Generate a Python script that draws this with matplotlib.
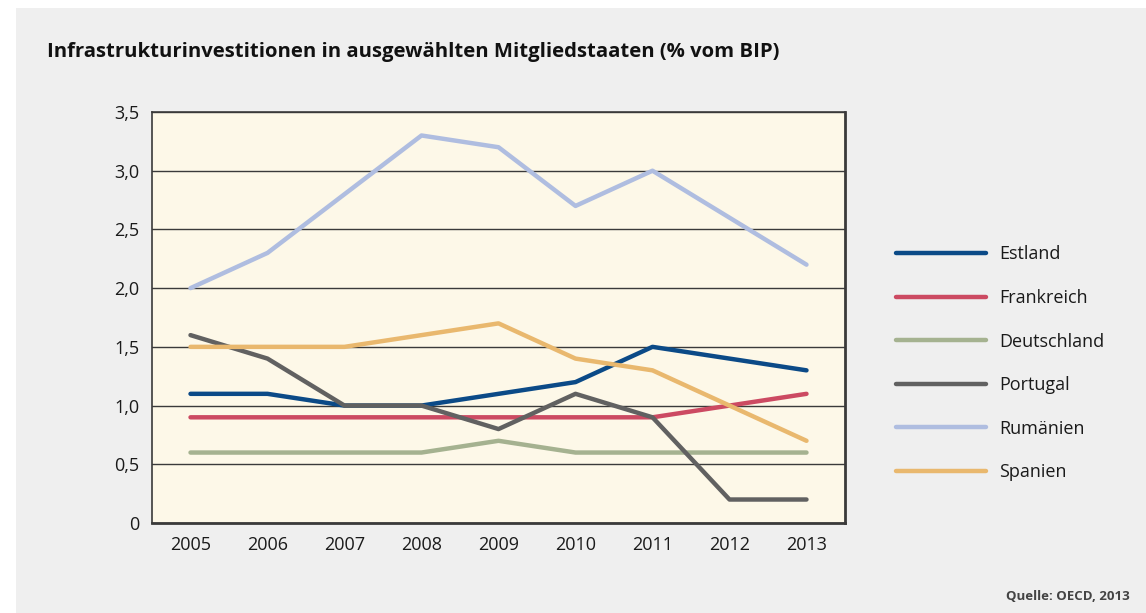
import matplotlib
matplotlib.use("Agg")
import matplotlib.pyplot as plt
from matplotlib.patches import Rectangle

years = [2005, 2006, 2007, 2008, 2009, 2010, 2011, 2012, 2013]
estland = [1.1, 1.1, 1.0, 1.0, 1.1, 1.2, 1.5, 1.4, 1.3]
frankreich = [0.9, 0.9, 0.9, 0.9, 0.9, 0.9, 0.9, 1.0, 1.1]
deutschland = [0.6, 0.6, 0.6, 0.6, 0.7, 0.6, 0.6, 0.6, 0.6]
portugal = [1.6, 1.4, 1.0, 1.0, 0.8, 1.1, 0.9, 0.2, 0.2]
rumaenien = [2.0, 2.3, 2.8, 3.3, 3.2, 2.7, 3.0, 2.6, 2.2]
spanien = [1.5, 1.5, 1.5, 1.6, 1.7, 1.4, 1.3, 1.0, 0.7]
series_names = ["Estland", "Frankreich", "Deutschland", "Portugal", "Rumänien", "Spanien"]
series_vals = [estland, frankreich, deutschland, portugal, rumaenien, spanien]
colors = ["#0b4a87", "#cc4a62", "#a5b290", "#616161", "#afbde0", "#e9b86e"]
yticks = [0, 0.5, 1.0, 1.5, 2.0, 2.5, 3.0, 3.5]
ytick_labels = ["0", "0,5", "1,0", "1,5", "2,0", "2,5", "3,0", "3,5"]

plt.rcParams['font.family'] = ['Open Sans', 'DejaVu Sans']

W, H = 1146, 613
fig = plt.figure(figsize=(W / 100, H / 100), dpi=100)
fig.patch.set_facecolor("white")
fig.add_artist(Rectangle((16 / W, 0), 1 - 16 / W, 1 - 8 / H, transform=fig.transFigure,
                         facecolor="#efefef", edgecolor="none", zorder=0))

left, right, top, bottom = 152, 845, 112, 523
ax = fig.add_axes([left / W, 1 - bottom / H, (right - left) / W, (bottom - top) / H])
ax.set_facecolor("#fdf8e8")

for name, vals, c in zip(series_names, series_vals, colors):
    ax.plot(years, vals, color=c, lw=3.2, label=name, solid_capstyle="round",
            solid_joinstyle="round", zorder=3)

ax.set_xlim(2004.5, 2013.5)
ax.set_ylim(0, 3.5)
ax.set_yticks(yticks)
ax.set_yticklabels(ytick_labels)
ax.set_xticks(years)
ax.set_xticklabels([str(y) for y in years])
ax.yaxis.grid(True, color="#3a3a3a", lw=1.0, zorder=1)
ax.set_axisbelow(True)
ax.tick_params(length=0, labelsize=13, colors="#1a1a1a", pad=9)
for s in ax.spines.values():
    s.set_color("#3a3a3a")
    s.set_linewidth(1.2)
ax.spines["bottom"].set_linewidth(2)
ax.spines["right"].set_linewidth(2)

leg = ax.legend(loc="upper left", bbox_to_anchor=(880 / W, 1 - 229 / H),
                bbox_transform=fig.transFigure, frameon=False, fontsize=13,
                handlelength=4.95, handletextpad=0.75, labelspacing=1.42)
for t in leg.get_texts():
    t.set_color("#1a1a1a")

fig.text(47 / W, 1 - 52 / H, "Infrastrukturinvestitionen in ausgewählten Mitgliedstaaten (% vom BIP)",
         fontsize=14.6, fontweight="bold", va="center", ha="left", color="#111111")
fig.text(1130 / W, 1 - 596 / H, "Quelle: OECD, 2013", fontsize=9.5, fontweight="bold",
         ha="right", va="center", color="#444444")

fig.savefig("out.png", dpi=100, facecolor=fig.get_facecolor())
